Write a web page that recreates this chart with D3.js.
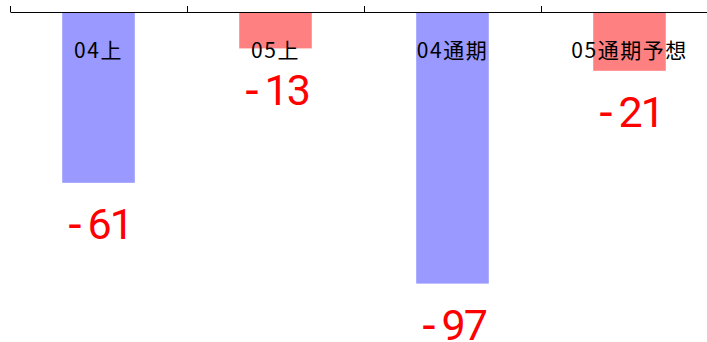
<!DOCTYPE html>
<html>
<head>
<meta charset="utf-8">
<script src="https://cdn.jsdelivr.net/npm/d3@7"></script>
<style>
  body { margin: 0; background: #fff; }
  svg { display: block; }
</style>
</head>
<body>
<div id="chart"></div>
<script>
// data
var categories = ["04上", "05上", "04通期", "05通期予想"];
var values = [-61, -13, -97, -21];
var barColors = ["#9999ff", "#ff8080", "#9999ff", "#ff8080"];

var svgW = 707, svgH = 342;
var x0 = 10, x1 = 718;   // axis runs off the right edge

var svg = d3.select("#chart").append("svg")
    .attr("width", svgW).attr("height", svgH);

var x = d3.scaleBand().domain(categories).range([x0, x1]).padding(0);
var y = d3.scaleLinear().domain([-100, 0]).range([292, 12]);

var barW = x.bandwidth() * 0.41;

// bars hang down from zero
svg.selectAll("rect.bar")
    .data(values).enter().append("rect")
    .attr("class", "bar")
    .attr("x", (d, i) => x(categories[i]) + (x.bandwidth() - barW) / 2)
    .attr("y", y(0))
    .attr("width", barW)
    .attr("height", d => y(d) - y(0))
    .attr("fill", (d, i) => barColors[i]);

// axis along the top, ticks at the category boundaries
var tickScale = d3.scaleLinear().domain([0, categories.length]).range([x0, x1]);
var axis = d3.axisTop(tickScale)
    .tickValues(d3.range(categories.length + 1))
    .tickSize(6).tickSizeOuter(0).tickFormat("");
svg.append("g")
    .attr("transform", `translate(0, ${y(0)})`)
    .call(axis)
    .call(g => g.selectAll("path, line").attr("stroke", "#000").attr("stroke-width", 1));

// category names
svg.selectAll("text.cat")
    .data(categories).enter().append("text")
    .attr("class", "cat")
    .attr("x", d => x(d) + x.bandwidth() / 2)
    .attr("y", 58)
    .attr("text-anchor", "middle")
    .attr("font-family", "'Noto Sans CJK JP', sans-serif")
    .attr("font-size", 21)
    .attr("letter-spacing", 1.5)
    .attr("fill", "#000")
    .text(d => d);

// value labels under each bar: minus sign set apart, digits tight
var vals = svg.selectAll("text.val")
    .data(values).enter().append("text")
    .attr("class", "val")
    .attr("x", (d, i) => x(categories[i]) + x.bandwidth() / 2 + 1)
    .attr("y", d => y(d) + 56.5)
    .attr("text-anchor", "middle")
    .attr("font-size", 43)
    .attr("fill", "#ff0000");
vals.append("tspan")
    .attr("font-family", "'Liberation Sans', sans-serif")
    .attr("font-size", 46)
    .text("-");
vals.append("tspan")
    .attr("font-family", "Roboto, 'Liberation Sans', sans-serif")
    .attr("dx", 5)
    .attr("letter-spacing", -2)
    .text(d => Math.abs(d));
</script>
</body>
</html>
